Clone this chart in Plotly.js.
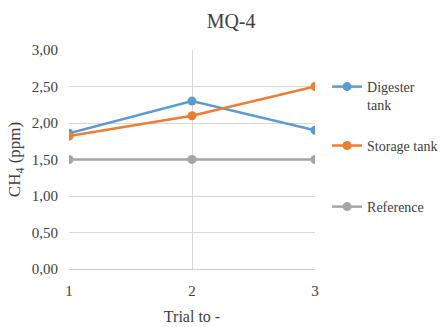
<!DOCTYPE html>
<html><head><meta charset="utf-8">
<script src="https://cdn.plot.ly/plotly-3.0.1.min.js"></script>
<style>html,body{margin:0;padding:0;background:#fff}#c{width:441px;height:327px}</style>
</head><body><div id="c"></div>
<script>
const trials = [1, 2, 3];
const digester = [1.86, 2.30, 1.90];
const storage = [1.82, 2.10, 2.50];
const reference = [1.50, 1.50, 1.50];
const seriesNames = ["Digester<br>tank", "Storage tank", "Reference"];
const colors = ["#5b9bd5", "#ed7d31", "#a5a5a5"];
const yTicks = [0, 0.5, 1, 1.5, 2, 2.5, 3];

const legends = ['legend', 'legend2', 'legend3'];
const data = [digester, storage, reference].map((vals, i) => ({
  x: trials, y: vals, type: 'scatter', mode: 'lines+markers',
  name: seriesNames[i], legend: legends[i],
  line: {color: colors[i], width: 2.5},
  marker: {color: colors[i], size: 9}
}));
const plotData = [data[2], data[0], data[1]];

const FAM = 'Liberation Serif, Times New Roman, serif';
const f = (s) => ({family: FAM, size: s, color: '#404040'});
const legBase = {x: 1.049, xanchor: 'left', font: f(14), bgcolor: 'rgba(0,0,0,0)', valign: 'top'};
const layout = {
  width: 441, height: 327,
  margin: {l: 69, r: 126, t: 50, b: 58, autoexpand: false},
  paper_bgcolor: '#fff', plot_bgcolor: '#fff',
  separators: ',.',
  font: f(14),
  title: {text: 'MQ-4', font: f(20), xref: 'container', x: 0.524, xanchor: 'center', yref: 'container', y: 0.935, yanchor: 'middle'},
  xaxis: {
    range: [1, 3], tickvals: trials, ticktext: trials.map(String),
    showgrid: true, gridcolor: '#d9d9d9', gridwidth: 1,
    zeroline: false, showline: true, linecolor: '#d0d0d0', mirror: false,
    ticks: '', tickfont: f(15), ticklabelstandoff: 8,
    title: {text: 'Trial to -', font: f(16), standoff: 12}
  },
  yaxis: {
    range: [0, 3], tickvals: yTicks, tickformat: '.2f',
    showgrid: true, gridcolor: '#d9d9d9', gridwidth: 1,
    zeroline: false, showline: false,
    ticks: '', tickfont: f(15), ticklabelstandoff: 10,
    title: {text: 'CH<sub>4</sub> (ppm)', font: f(17), standoff: 6}
  },
  legend: Object.assign({}, legBase, {y: 0.904, yanchor: 'top'}),
  legend2: Object.assign({}, legBase, {y: 0.562, yanchor: 'middle'}),
  legend3: Object.assign({}, legBase, {y: 0.283, yanchor: 'middle'}),
  showlegend: true
};
Plotly.newPlot('c', plotData, layout, {displayModeBar: false, staticPlot: true});
</script>
</body></html>
